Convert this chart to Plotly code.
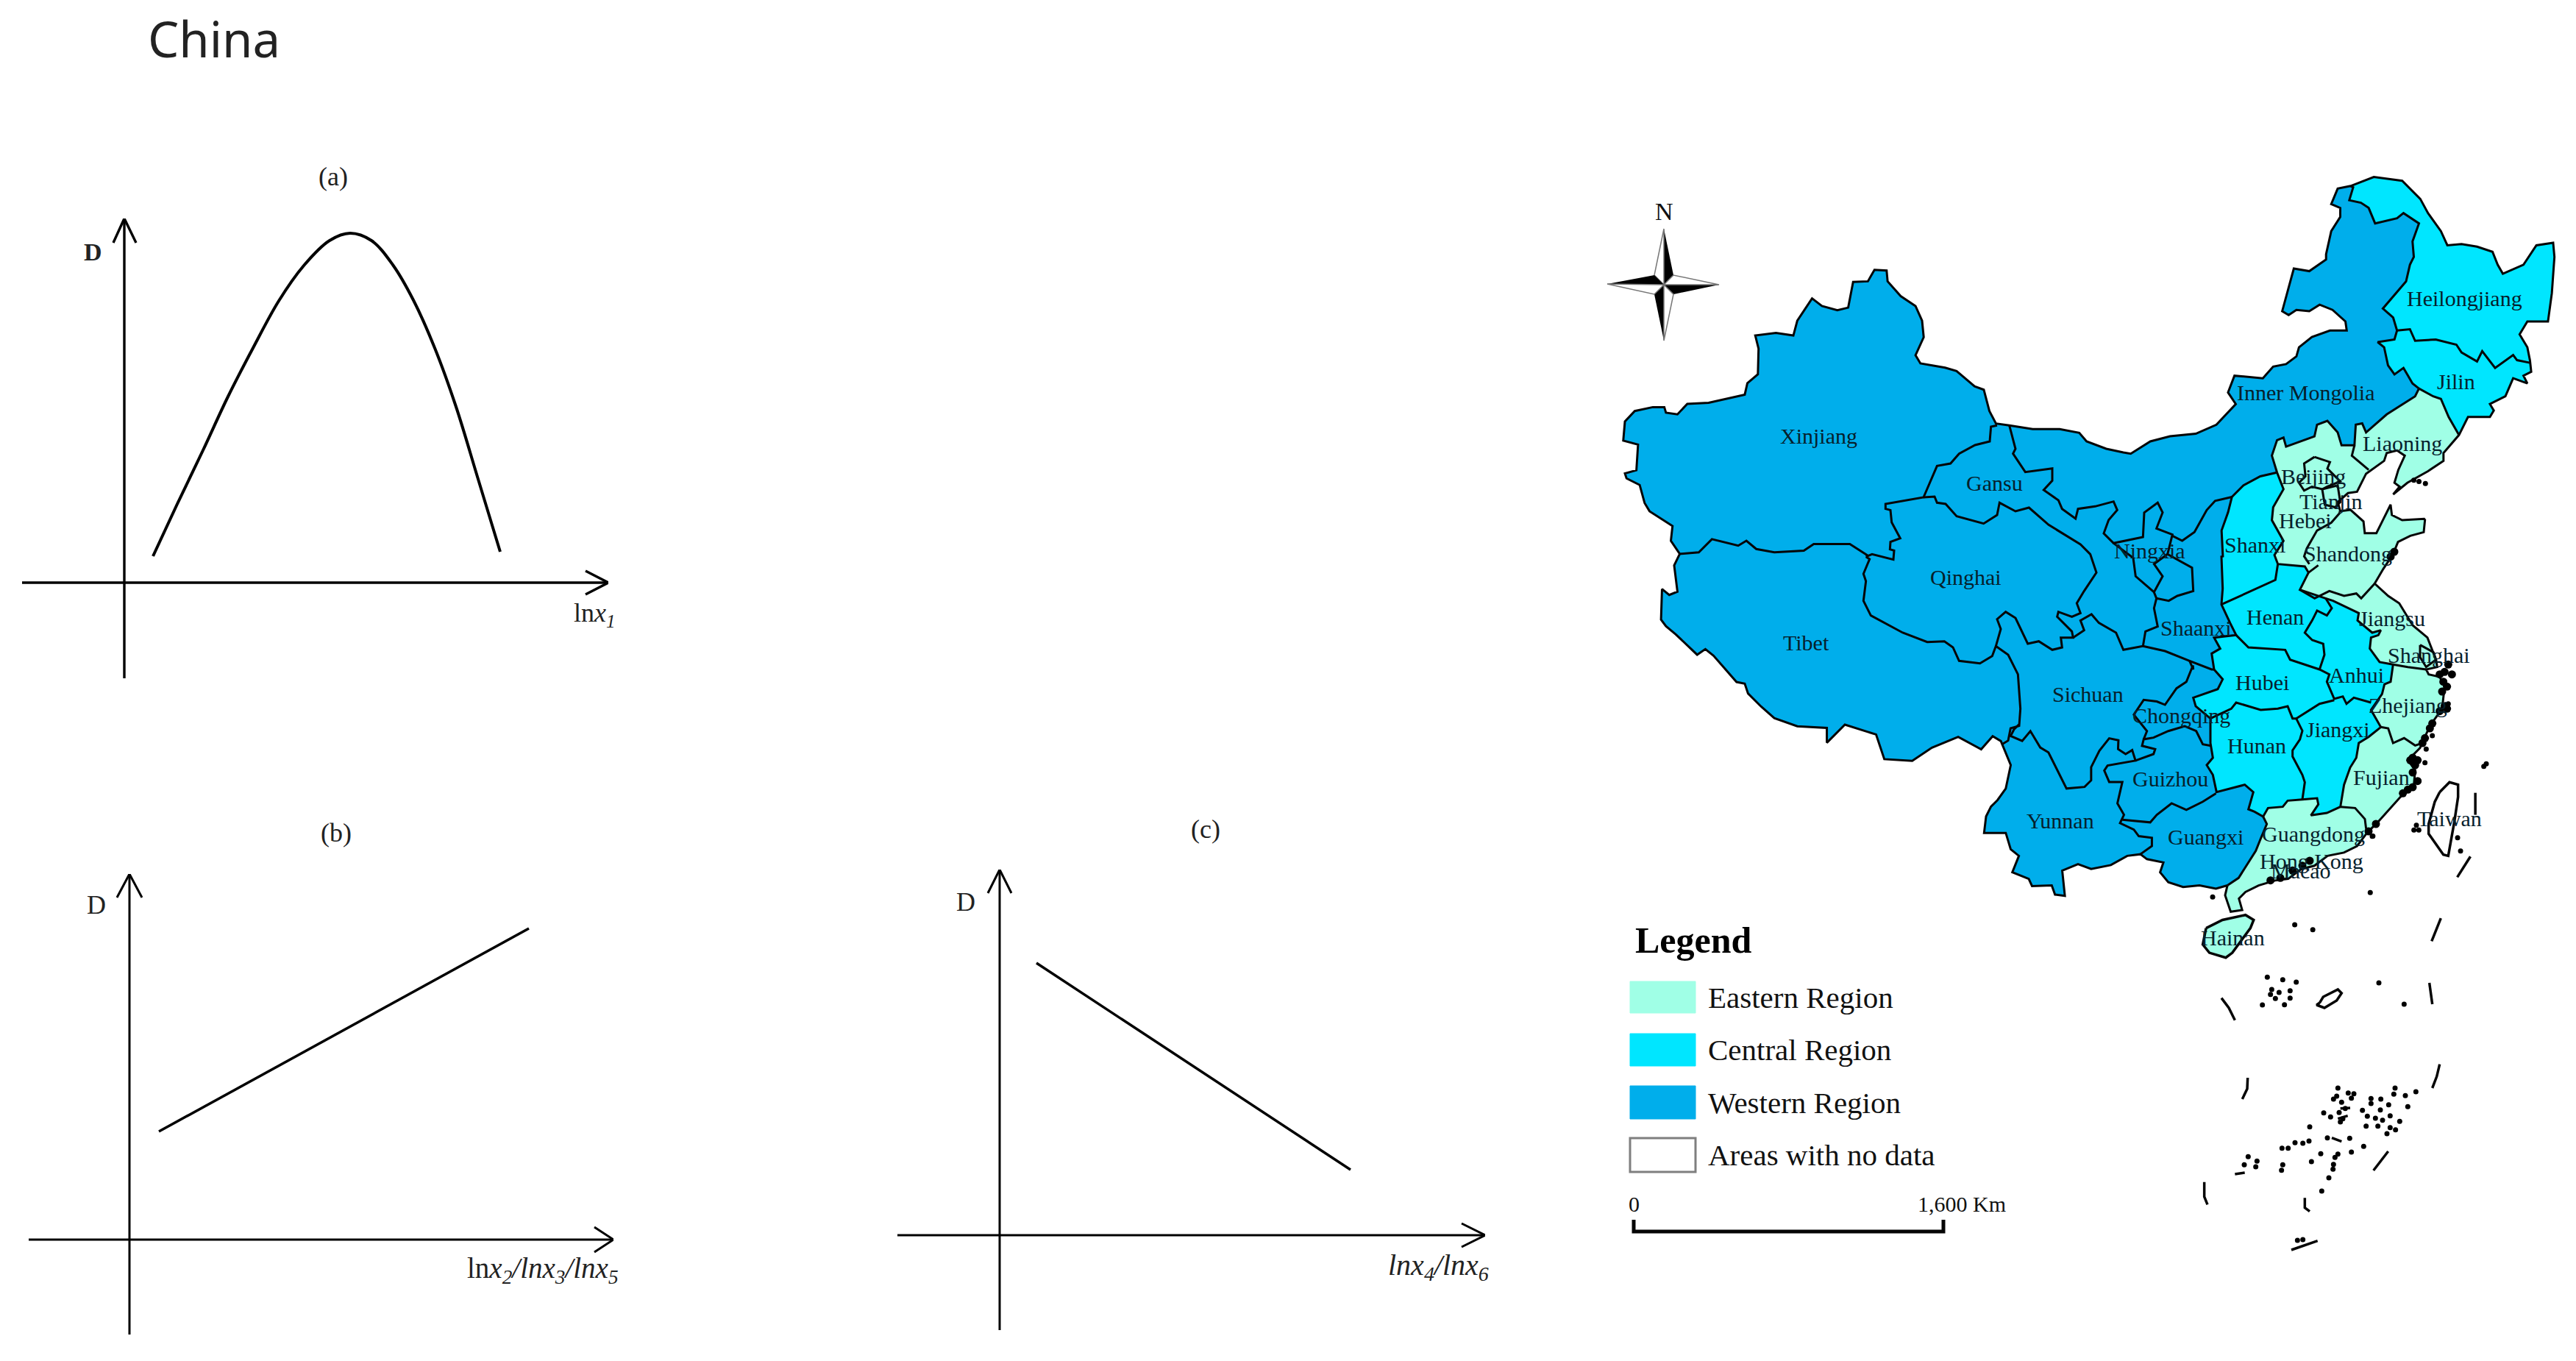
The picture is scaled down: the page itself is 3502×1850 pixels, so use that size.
import plotly.graph_objects as go

W, H = 3502, 1850

# the crops the map was read from: left, top, scale
C5 = (2950, 230, 0.3508)
C6 = (2900, 700, 1 / 3)
C7 = (2700, 900, 0.4464)
C8 = (2180, 340, 0.4464)
C9 = (2500, 550, 1 / 3)
C10 = (2940, 1280, 1 / 3)


def crop(c, pts):
    return [(c[0] + x * c[2], c[1] + y * c[2]) for x, y in pts]


# curve panels, offsets from each origin
curve_a_x = [39, 72, 107, 141, 175, 210, 244, 279, 307, 336, 365, 393, 422, 451, 480, 511]
curve_a_y = [36, 107, 180, 253, 319, 383, 431, 465, 475, 465, 432, 384, 319, 239, 144, 42]
line_b_x = [40, 543]
line_b_y = [147, 423]
line_c_x = [50, 477]
line_c_y = [370, 89]

# mainland outline
NORTH_WEST = crop(C8, [(1195, 528), (1175, 490), (1158, 425), (1130, 415), (1075, 368), (1040, 358), (965, 345), (950, 320), (975, 265), (970, 215), (950, 170), (905, 140), (865, 95), (862, 62), (825, 60), (805, 95), (760, 97), (745, 175), (712, 183), (665, 170), (635, 147), (590, 215), (578, 260), (525, 252), (462, 260), (472, 300), (470, 378), (438, 405), (430, 440), (320, 465), (255, 468), (225, 500), (190, 495), (185, 478), (150, 478), (95, 490), (65, 522), (60, 580), (105, 592), (100, 670), (65, 680), (70, 695), (110, 715), (125, 770), (140, 795), (210, 840), (205, 885), (232, 925), (215, 960), (225, 1040), (200, 1050), (178, 1032), (175, 1125), (190, 1145), (220, 1170), (285, 1232), (310, 1215), (335, 1235), (405, 1315), (430, 1320), (440, 1350), (480, 1390), (520, 1425), (590, 1450), (680, 1455), (680, 1500), (735, 1445), (830, 1475), (855, 1550), (940, 1555), (1000, 1515), (1080, 1482), (1150, 1520), (1185, 1480), (1210, 1495), (1240, 1568)])
SOUTH_WEST = crop(C7, [(72, 330), (60, 385), (35, 420), (15, 440), (0, 470), (-6, 520), (30, 520), (60, 520), (75, 570), (100, 590), (80, 640), (130, 660), (140, 682), (200, 680), (210, 708), (240, 712), (232, 635), (280, 615), (320, 630), (380, 618), (430, 590), (470, 585), (490, 600), (540, 610), (530, 640), (555, 670), (600, 685), (650, 680), (700, 690), (735, 680)])
COAST_EAST = crop(C7, [(735, 680), (728, 710), (745, 760), (780, 755), (770, 720), (790, 700), (830, 680), (880, 665), (920, 660), (960, 630), (1000, 620), (1040, 590), (1090, 580), (1130, 560), (1160, 520)]) + crop(C6, [(1000, 1250), (1090, 1150), (1145, 1100), (1150, 1040), (1120, 1000), (1170, 950), (1210, 860), (1260, 790), (1270, 700), (1250, 660), (1205, 650), (1195, 630), (1240, 620), (1235, 590), (1200, 500), (1140, 450), (1085, 360), (1040, 330), (985, 280), (1020, 220), (1060, 160), (1080, 110), (1130, 85), (1185, 70), (1190, 20)]) + crop(C5, [(985, 1355), (900, 1360), (860, 1340), (855, 1300), (820, 1370), (800, 1410), (755, 1410), (750, 1365), (700, 1320), (660, 1325), (650, 1290), (690, 1255), (725, 1250), (760, 1180), (830, 1130), (840, 1100), (880, 1090), (910, 1110), (885, 1165), (870, 1215), (890, 1230), (865, 1260), (920, 1215), (1000, 1170), (1060, 1130), (1060, 1100), (1120, 1030)])
COAST_NE = crop(C5, [(1120, 1030), (1155, 960), (1240, 960), (1255, 935), (1240, 910), (1300, 880), (1330, 810), (1385, 830), (1370, 800), (1400, 785), (1395, 740), (1385, 690), (1355, 640), (1385, 590), (1465, 590), (1480, 480), (1490, 340), (1485, 285), (1420, 295), (1370, 370), (1290, 405), (1270, 370), (1250, 320), (1190, 300), (1130, 290), (1075, 295), (1050, 240), (1000, 170), (970, 115), (900, 45), (790, 30), (700, 65)])
NORTH_IM = crop(C5, [(700, 65), (650, 75), (625, 135), (660, 150), (660, 185), (625, 240), (605, 330), (605, 350), (540, 395), (480, 385), (440, 525), (435, 550), (460, 565), (490, 545), (540, 550), (580, 525), (630, 545), (680, 590), (685, 625), (620, 625), (550, 650), (500, 690), (490, 725), (450, 755), (400, 765), (360, 810), (250, 800), (225, 865), (255, 910), (180, 990), (100, 1025), (0, 1035)]) + crop(C9, [(1270, 150), (1190, 200), (1160, 195), (1090, 180), (1010, 150), (980, 115), (900, 100), (790, 100), (695, 85), (645, 78)])

# edges of the regional blocks
IM_NE = crop(C5, [(700, 65), (710, 70), (695, 120), (740, 130), (770, 150), (795, 210), (880, 190), (905, 170), (965, 210), (940, 280), (945, 340), (930, 370), (915, 435), (825, 540), (865, 575), (880, 625), (870, 660), (805, 670), (830, 690), (845, 760), (870, 795), (905, 770), (940, 830), (965, 850)])
JL_LN = crop(C5, [(965, 850), (1020, 880), (1050, 890), (1080, 960), (1120, 1030)])
IM_LN_HB = crop(C5, [(965, 850), (950, 880), (840, 950), (760, 1020), (745, 985), (720, 990), (715, 1070), (665, 1070), (650, 1020), (610, 975), (570, 990), (560, 1035), (450, 1075), (440, 1040), (415, 1050), (395, 1110), (415, 1175)])
W_EDGE = crop(C5, [(415, 1175), (350, 1190), (285, 1225), (240, 1270), (225, 1330), (200, 1400), (205, 1500)]) + crop(C6, [(360, 170), (365, 300), (360, 365), (395, 440), (420, 490), (330, 500), (355, 545), (320, 565), (330, 630), (365, 670), (345, 710), (245, 745), (255, 780), (315, 830), (315, 930), (325, 990), (300, 1020), (325, 1060), (340, 1130), (455, 1100), (490, 1130), (470, 1200), (495, 1210), (530, 1230)])
GX_GD = crop(C6, [(530, 1230), (545, 1260), (520, 1320), (500, 1370), (430, 1480)]) + crop(C7, [(750, 670), (735, 680)])
C_SE = crop(C6, [(530, 1230), (550, 1195), (610, 1190), (630, 1165), (690, 1160), (750, 1155), (755, 1180), (725, 1225), (790, 1215), (845, 1190), (860, 1100), (885, 1030), (910, 990), (920, 930), (960, 905), (1010, 865), (970, 795), (1015, 730), (1025, 690), (1050, 680), (1060, 610), (1005, 600), (965, 545), (970, 500), (1000, 490), (1010, 470), (975, 480), (915, 430), (920, 400), (815, 350), (785, 340), (680, 305), (715, 235), (700, 210), (590, 200)]) + crop(C5, [(415, 1520), (405, 1495), (440, 1440), (395, 1360), (400, 1310), (440, 1240), (415, 1175)])

# borders that only get a line
BORDERS = [
    crop(C9, [(645, 85), (620, 90), (615, 150), (555, 165), (490, 200), (455, 240), (400, 250), (345, 378), (190, 405), (190, 425), (210, 430), (215, 480), (250, 545), (210, 560), (208, 590), (225, 595), (222, 632), (135, 610), (110, 620)]),
    crop(C8, [(805, 930), (750, 895), (640, 895), (610, 915), (520, 920), (465, 910), (435, 885), (410, 900), (330, 880), (290, 920), (232, 925)]),
    crop(C9, [(345, 378), (390, 375), (400, 400), (435, 405), (480, 455), (590, 485), (645, 450), (655, 400), (720, 435), (775, 420), (855, 490), (985, 570), (1025, 610), (1050, 685), (1000, 760), (970, 810), (985, 850), (950, 865), (895, 845), (890, 865), (950, 925), (955, 950), (905, 950), (910, 990), (870, 1000), (815, 965), (770, 975), (720, 870), (680, 845), (645, 875), (660, 915), (640, 985), (625, 1025), (575, 1055), (490, 1045), (465, 990), (430, 965), (360, 968), (260, 930), (215, 905), (130, 860), (100, 800), (110, 720), (100, 690), (125, 630), (110, 620)]),
    crop(C9, [(640, 985), (690, 1020), (730, 1100), (740, 1240), (735, 1310), (700, 1320), (690, 1370), (665, 1385)]),
    crop(C9, [(695, 85), (720, 180), (710, 200), (760, 275), (870, 260), (870, 310), (835, 348), (895, 390), (910, 425), (965, 465), (975, 425), (1045, 415), (1120, 395), (1135, 430), (1100, 470), (1080, 525), (1120, 565), (1240, 540), (1245, 440), (1300, 400), (1320, 440), (1295, 505), (1360, 530), (1340, 610), (1440, 665), (1445, 760), (1380, 780), (1345, 800), (1295, 790), (1285, 830), (1300, 905), (1250, 925), (1240, 985), (1160, 1000), (1130, 930), (1060, 890), (1030, 855), (985, 880), (1000, 920), (955, 950)]),
    crop(C9, [(1120, 565), (1200, 625), (1210, 700), (1285, 765), (1320, 700), (1285, 650), (1340, 610)]),
    crop(C9, [(1285, 765), (1295, 790)]),
    crop(C9, [(1360, 535), (1400, 555), (1450, 520), (1500, 430)]) + crop(C5, [(175, 1285), (240, 1270)]),
    crop(C9, [(1240, 985), (1330, 1005), (1430, 1045)]) + crop(C6, [(320, 630), (330, 630)]),
    crop(C7, [(100, 190), (85, 205), (75, 225), (110, 240), (135, 210), (165, 260), (190, 275), (245, 385), (300, 380), (320, 360), (320, 320), (345, 270), (375, 232), (403, 238), (402, 265), (425, 280), (445, 268), (455, 300), (370, 315), (360, 330), (375, 365), (415, 365), (400, 430), (420, 465), (408, 490), (450, 510), (465, 530), (505, 535), (505, 560), (470, 585)]),
    crop(C7, [(415, 480), (500, 488), (520, 465), (565, 430), (610, 450), (660, 425), (700, 400)]),
    crop(C7, [(455, 300), (510, 280), (515, 265), (475, 255), (480, 235), (510, 230), (555, 210), (605, 195), (640, 210), (660, 250), (685, 255)]),
    crop(C7, [(480, 235), (490, 210), (450, 160), (480, 115), (520, 120), (545, 130), (580, 80), (610, 60), (630, 10)]) + crop(C9, [(1445, 1080), (1430, 1045)]),
    crop(C5, [(880, 625), (930, 620), (950, 665), (1030, 660), (1110, 680), (1130, 710), (1190, 745), (1210, 705), (1260, 770), (1330, 720), (1345, 740), (1395, 750)]),
    crop(C5, [(715, 1070), (705, 1110), (770, 1165)]),
    crop(C5, [(560, 1115), (620, 1135), (610, 1160), (660, 1210), (610, 1230), (590, 1240), (550, 1230), (520, 1245), (500, 1215), (525, 1190), (520, 1140), (560, 1115)]),
    crop(C5, [(590, 1240), (650, 1225), (660, 1290), (640, 1310), (600, 1300), (590, 1240)]),
    crop(C5, [(660, 1330), (625, 1370), (570, 1400), (530, 1470), (520, 1500), (540, 1530)]),
    crop(C6, [(755, 205), (715, 235)]),
    crop(C6, [(360, 365), (480, 310), (580, 265), (590, 200)]),
    crop(C6, [(420, 490), (470, 540), (620, 550), (640, 590), (760, 630), (800, 650), (790, 680), (820, 750), (855, 740), (870, 770), (900, 745), (970, 765)]),
    crop(C6, [(760, 630), (780, 570), (775, 525), (730, 510), (700, 480), (730, 430), (750, 390), (790, 410), (810, 380), (785, 340)]),
    crop(C6, [(820, 755), (760, 770), (665, 830)]),
    crop(C6, [(315, 830), (400, 790), (420, 765), (520, 795), (590, 790), (630, 780), (650, 830), (665, 830), (690, 880), (680, 915), (650, 960), (650, 985), (690, 1060), (700, 1090), (690, 1160)]),
    crop(C6, [(680, 305), (740, 340), (800, 310), (860, 330), (910, 320), (930, 340), (985, 280)]),
    crop(C6, [(1060, 610), (1120, 620), (1195, 630)]),
    crop(C6, [(1170, 530), (1225, 560), (1235, 590), (1195, 620), (1170, 580), (1170, 530)]),
    crop(C6, [(1010, 865), (1040, 870), (1060, 930), (1105, 910), (1150, 940), (1180, 930)]),
    crop(C6, [(845, 1190), (905, 1195), (945, 1240), (950, 1280)]),
]

HAINAN = crop(C7, [(670, 810), (720, 785), (790, 770), (815, 785), (805, 810), (775, 850), (750, 885), (730, 900), (680, 885), (660, 860), (670, 810)])
TAIWAN = crop(C6, [(1250, 1130), (1290, 1090), (1325, 1100), (1325, 1150), (1310, 1250), (1285, 1390), (1265, 1385), (1205, 1300), (1205, 1260), (1230, 1170), (1250, 1130)])
ATOLL = crop(C10, [(640, 250), (655, 225), (715, 195), (730, 210), (710, 240), (660, 270), (628, 258), (640, 250)])
DASHES = [
    crop(C7, [(1475, 592), (1435, 655)]),
    crop(C7, [(1385, 780), (1357, 850)]),
    crop(C7, [(1490, 398), (1490, 465)]),
    crop(C10, [(240, 230), (270, 270), (295, 320)]),
    crop(C10, [(1088, 168), (1100, 255)]),
    crop(C10, [(1130, 500), (1118, 550), (1100, 597)]),
    crop(C10, [(347, 555), (345, 600), (325, 642)]),
    crop(C10, [(920, 855), (860, 933)]),
    crop(C10, [(170, 980), (170, 1040), (183, 1072)]),
    crop(C10, [(525, 1257), (632, 1220)]),
    crop(C10, [(580, 1045), (580, 1085), (600, 1100)]),
    crop(C10, [(295, 948), (335, 942)]),
    crop(C10, [(715, 722), (755, 710)]),
    crop(C10, [(725, 680), (765, 678)]),
    crop(C10, [(690, 800), (730, 815)]),
]
ISLES = crop(C10, [(427, 145), (490, 155), (545, 165), (520, 200), (445, 195), (440, 215), (475, 207), (460, 232), (520, 230), (407, 258), (497, 257), (882, 168), (985, 255), (715, 597), (757, 617), (780, 620), (770, 638), (710, 630), (697, 642), (730, 655), (745, 680), (720, 697), (657, 698), (685, 715), (735, 722), (725, 735), (600, 755), (850, 640), (850, 660), (890, 642), (922, 665), (815, 688), (888, 686), (835, 712), (868, 720), (897, 728), (928, 710), (967, 733), (830, 752), (878, 752), (928, 758), (950, 767), (915, 783), (948, 597), (943, 622), (990, 628), (1033, 612), (1000, 673), (672, 800), (763, 802), (820, 835), (770, 858), (715, 866), (703, 880), (645, 865), (607, 897), (697, 908), (695, 928), (678, 963), (649, 1017), (540, 820), (572, 822), (597, 813), (487, 842), (512, 842), (349, 877), (385, 895), (380, 918), (333, 910), (490, 910), (485, 932), (572, 1215), (550, 1218)]) + crop(C7, [(1170, 702), (940, 800), (995, 815), (690, 715), (1178, 530), (1436, 535), (1445, 575)]) + crop(C6, [(1190, 1010), (1220, 900), (1300, 655), (1285, 770), (1440, 1015), (1430, 1025), (1155, 1265), (1145, 1285), (1165, 1285), (975, 1310), (1195, 955)]) + crop(C5, [(965, 1210), (990, 1218), (945, 1205)])
# the dense island blots along the coast
COAST_BLOTS = crop(C6, [(1270, 640), (1285, 610), (1250, 650), (1300, 650), (1265, 680), (1280, 700), (1260, 720), (1270, 780), (1280, 790), (1250, 800), (1220, 850), (1210, 870), (1190, 910), (1180, 930), (1140, 990), (1130, 1000), (1160, 1000), (1150, 1020), (1140, 1050), (1160, 1085), (1140, 1110), (1120, 1120), (1100, 1135), (960, 1290), (990, 1260), (720, 1410), (690, 1430), (650, 1450), (600, 1480), (560, 1490), (1050, 170), (1065, 150)])

province_names = ["Xinjiang", "Gansu", "Qinghai", "Tibet", "Sichuan", "Ningxia", "Shaanxi", "Chongqing", "Guizhou", "Yunnan", "Guangxi", "Inner Mongolia", "Heilongjiang", "Jilin", "Liaoning", "Beijing", "Tianjin", "Hebei", "Shanxi", "Shandong", "Henan", "Jiangsu", "Anhui", "Shanghai", "Hubei", "Zhejiang", "Jiangxi", "Hunan", "Fujian", "Guangdong", "Hong Kong", "Macao", "Taiwan", "Hainan"]
province_x = [2472, 2711, 2672, 2455, 2838, 2922, 2985, 2965, 2950, 2801, 2998, 3134, 3350, 3339, 3266, 3145, 3169, 3134, 3065, 3192, 3093, 3252, 3203, 3302, 3075, 3273, 3178, 3068, 3237, 3145, 3142, 3128, 3330, 3035]
province_y = [592, 656, 784, 873, 943, 748, 853, 972, 1058, 1115, 1137, 533, 405, 518, 602, 647, 681, 707, 740, 752, 838, 840, 917, 890, 927, 958, 991, 1013, 1056, 1133, 1170, 1183, 1112, 1274]

legend_labels = ["Eastern Region", "Central Region", "Western Region", "Areas with no data"]
legend_colors = ["#A0FFE6", "#00E6FF", "#00AEEB", "#FFFFFF"]
legend_top = [1334, 1405, 1476, 1547]
legend_bottom = [1377, 1449, 1521, 1593]

BLACK = "#000000"
SERIF = "Liberation Serif"


def xy(pts):
    return [p[0] for p in pts], [p[1] for p in pts]


def join(lines):
    xs, ys = [], []
    for pts in lines:
        a, b = xy(pts)
        xs += a + [None]
        ys += b + [None]
    return xs, ys


fig = go.Figure()

# map axes are the full page in pixels
fig.update_layout(
    width=W, height=H, margin=dict(l=0, r=0, t=0, b=0), showlegend=False,
    paper_bgcolor="white", plot_bgcolor="rgba(0,0,0,0)",
    xaxis=dict(range=[0, W], domain=[0, 1], visible=False),
    yaxis=dict(range=[H, 0], domain=[0, 1], visible=False),
)


def fill(pts, color):
    x, y = xy(pts)
    fig.add_trace(go.Scatter(x=x, y=y, mode="lines", fill="toself", fillcolor=color,
                             line=dict(width=0, color=color), hoverinfo="skip"))


def lines(parts, width):
    x, y = join(parts)
    fig.add_trace(go.Scatter(x=x, y=y, mode="lines", hoverinfo="skip",
                             line=dict(color="#050505", width=width)))


def dots(pts, size):
    x, y = xy(pts)
    fig.add_trace(go.Scatter(x=x, y=y, mode="markers", hoverinfo="skip",
                             marker=dict(color=BLACK, size=size, line=dict(width=0))))


EAST, CENTRAL, WEST = legend_colors[0], legend_colors[1], legend_colors[2]
OUTER = COAST_EAST + COAST_NE + NORTH_IM + NORTH_WEST + SOUTH_WEST
fill(OUTER, WEST)
fill(COAST_EAST + JL_LN[::-1] + IM_LN_HB + W_EDGE + GX_GD, EAST)
fill(W_EDGE + C_SE, CENTRAL)
fill(COAST_NE + IM_NE + JL_LN, CENTRAL)
fill(HAINAN, EAST)

lines([OUTER + OUTER[:1], IM_NE, JL_LN, IM_LN_HB, W_EDGE, GX_GD, C_SE] + BORDERS, 3)
lines([HAINAN, TAIWAN, ATOLL], 3.5)
lines(DASHES, 3.5)
dots(ISLES, 7)
dots(COAST_BLOTS, 11)

# compass
compass_center = (2262, 387)
compass_tips = [(2262, 311), (2337, 387), (2262, 463), (2185, 386)]
compass_waist = 13
cx, cy = compass_center
waists = [(cx + compass_waist, cy - compass_waist), (cx + compass_waist, cy + compass_waist),
          (cx - compass_waist, cy + compass_waist), (cx - compass_waist, cy - compass_waist)]
for i, tip in enumerate(compass_tips):
    prev = waists[i - 1]
    fill([compass_center, waists[i], tip, compass_center], BLACK)
    x, y = xy([compass_center, prev, tip, compass_center])
    fig.add_trace(go.Scatter(x=x, y=y, mode="lines", fill="toself", fillcolor="white",
                             line=dict(color="#777777", width=1.5), hoverinfo="skip"))

# legend swatches and scale bar
for label, color, top, bottom in zip(legend_labels, legend_colors, legend_top, legend_bottom):
    border = "#7F7F7F" if color == "#FFFFFF" else color
    fig.add_shape(type="rect", xref="x", yref="y", x0=2216, x1=2305, y0=top, y1=bottom,
                  fillcolor=color, line=dict(color=border, width=3 if color == "#FFFFFF" else 1))
    fig.add_annotation(x=2320, y=(top + bottom) / 2, xref="x", yref="y", text=label, showarrow=False,
                       xanchor="left", font=dict(family=SERIF, size=41, color="#111111"))

scale_km = [0, 1600]
scale_px = [2221, 2642]
lines([[(scale_px[0], 1658), (scale_px[0], 1674), (scale_px[1], 1674), (scale_px[1], 1658)]], 5)

fig.add_annotation(x=2221, y=1636, xref="x", yref="y", text=str(scale_km[0]), showarrow=False,
                   font=dict(family=SERIF, size=30, color="#111111"))
fig.add_annotation(x=2667, y=1636, xref="x", yref="y", text="1,600 Km", showarrow=False,
                   font=dict(family=SERIF, size=30, color="#111111"))
fig.add_annotation(x=2221, y=1278, xref="x", yref="y", text="<b>Legend</b>", showarrow=False, xanchor="left",
                   font=dict(family=SERIF, size=50, color=BLACK))
fig.add_annotation(x=2262, y=287, xref="x", yref="y", text="N", showarrow=False,
                   font=dict(family=SERIF, size=34, color="#111111"))

for name, px_, py_ in zip(province_names, province_x, province_y):
    fig.add_annotation(x=px_, y=py_, xref="x", yref="y", text=name, showarrow=False,
                       font=dict(family=SERIF, size=30, color="#06202C"))

# the three curve panels: origin and how far the axes run, in page pixels
panels = [
    dict(ox=169, oy=792, left=30, right=827, top=297, bottom=922, width=3.4,
         x=curve_a_x, y=curve_a_y, shape="spline", wing=(31, 16, 15, 33), curve_width=4),
    dict(ox=176, oy=1685, left=39, right=834, top=1188, bottom=1814, width=3,
         x=line_b_x, y=line_b_y, shape="linear", wing=(26, 17, 17, 32), curve_width=3.5),
    dict(ox=1359, oy=1679, left=1220, right=2019, top=1182, bottom=1808, width=3,
         x=line_c_x, y=line_c_y, shape="linear", wing=(32, 16, 16, 32), curve_width=3.5),
]
for n, p in enumerate(panels, start=2):
    x0, x1 = p["left"] - p["ox"], p["right"] - p["ox"]
    y0, y1 = p["oy"] - p["bottom"], p["oy"] - p["top"]
    fig.update_layout({
        f"xaxis{n}": dict(domain=[p["left"] / W, p["right"] / W], range=[x0, x1], visible=False, anchor=f"y{n}"),
        f"yaxis{n}": dict(domain=[1 - p["bottom"] / H, 1 - p["top"] / H], range=[y0, y1], visible=False, anchor=f"x{n}"),
    })
    wx, wxh, wyh, wy = p["wing"]
    ax = [x0, x1, None, x1 - wx, x1, x1 - wx, None, 0, 0, None, -wyh, 0, wxh, None]
    ay = [0, 0, None, wxh, 0, -wxh, None, y0, y1, None, y1 - wy, y1, y1 - wy, None]
    fig.add_trace(go.Scatter(x=ax, y=ay, xaxis=f"x{n}", yaxis=f"y{n}", mode="lines", hoverinfo="skip",
                             cliponaxis=False, line=dict(color=BLACK, width=p["width"])))
    fig.add_trace(go.Scatter(x=p["x"], y=p["y"], xaxis=f"x{n}", yaxis=f"y{n}", mode="lines", hoverinfo="skip",
                             line=dict(color=BLACK, width=p["curve_width"], shape=p["shape"], smoothing=1.0)))

panel_text = [
    ("(a)", 453, 240, 36, "#222222"),
    ("(b)", 457, 1132, 36, "#222222"),
    ("(c)", 1639, 1127, 36, "#222222"),
    ("<b>D</b>", 126, 342, 34, "#222222"),
    ("D", 131, 1230, 36, "#222222"),
    ("D", 1313, 1226, 36, "#222222"),
    ("ln<i>x</i><i><sub>1</sub></i>", 808, 835, 36, "#222222"),
    ("ln<i>x<sub>2</sub>/lnx<sub>3</sub>/lnx<sub>5</sub></i>", 738, 1726, 39, "#222222"),
    ("<i>lnx<sub>4</sub>/lnx<sub>6</sub></i>", 1955, 1722, 40, "#222222"),
]
for text, tx, ty, size, color in panel_text:
    fig.add_annotation(x=tx, y=ty, xref="x", yref="y", text=text, showarrow=False,
                       font=dict(family=SERIF, size=size, color=color))
fig.add_annotation(x=291, y=52, xref="x", yref="y", text="China", showarrow=False,
                   font=dict(family="Noto Sans", size=67, color="#222222"))

fig.write_html("out.html", config={"displayModeBar": False},
               post_script="document.body.style.margin='0';document.body.style.overflow='hidden';")
